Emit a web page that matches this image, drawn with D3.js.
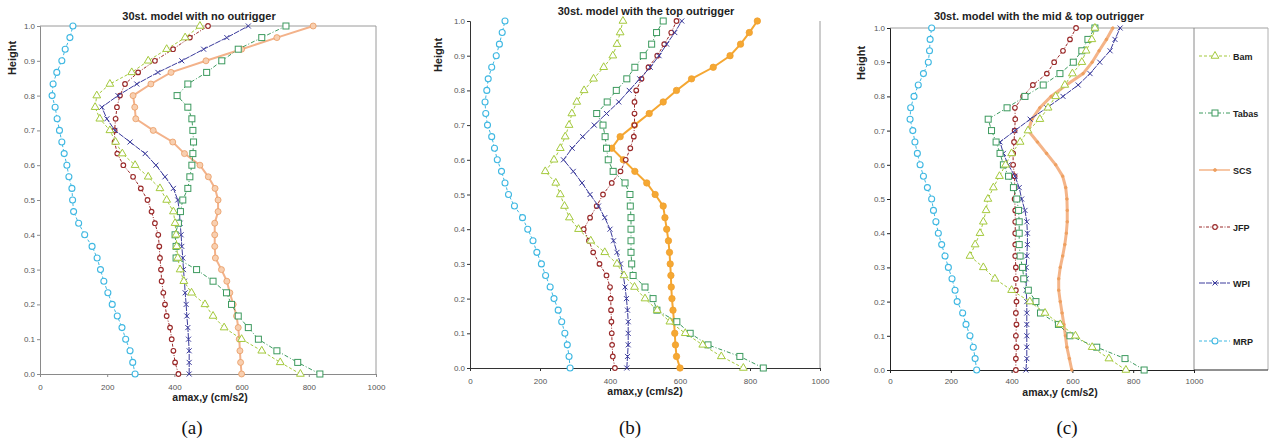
<!DOCTYPE html>
<html>
<head>
<meta charset="utf-8">
<script src="https://cdn.jsdelivr.net/npm/d3@7"></script>
<style>
  body { margin: 0; background: #fff; }
  svg { display: block; font-family: "Liberation Sans", Arial, sans-serif; }
</style>
</head>
<body>
<svg id="chart" width="1270" height="441"></svg>
<script>
// floors of the 30-storey model, bottom (0) to top (30); height = floor / 30
var floors = [0, 1, 2, 3, 4, 5, 6, 7, 8, 9, 10, 11, 12, 13, 14, 15, 16, 17, 18, 19, 20,
  21, 22, 23, 24, 25, 26, 27, 28, 29, 30];

var yTickFloors = [0, 3, 6, 9, 12, 15, 18, 21, 24, 27, 30];
var yTickLabels = ['0.0', '0.1', '0.2', '0.3', '0.4', '0.5', '0.6', '0.7', '0.8', '0.9', '1.0'];
var xTicks = [0, 200, 400, 600, 800, 1000];

var seriesNames = ['Bam', 'Tabas', 'SCS', 'JFP', 'WPI', 'MRP'];

// (a) no outrigger
var bamA = [775, 715, 660, 600, 548, 515, 491, 451, 428, 417, 410, 407, 405, 402, 397, 377, 357, 322, 283, 245, 225, 208, 178, 164, 169, 208, 273, 322, 377, 432, 476];
var tabasA = [833, 767, 705, 650, 620, 590, 570, 555, 515, 466, 405, 405, 402, 412, 418, 425, 440, 446, 452, 455, 457, 455, 452, 440, 408, 440, 496, 541, 590, 660, 732];
var scsA = [600, 597, 595, 593, 590, 585, 575, 565, 556, 540, 522, 520, 520, 520, 530, 530, 521, 501, 476, 430, 395, 337, 285, 282, 277, 330, 390, 494, 600, 705, 813];
var jfpA = [412, 402, 397, 392, 387, 377, 372, 367, 362, 360, 357, 355, 352, 342, 332, 320, 300, 277, 248, 230, 222, 222, 225, 229, 238, 253, 292, 342, 396, 446, 500];
var wpiA = [444, 444, 444, 442, 440, 437, 435, 432, 430, 427, 425, 422, 420, 417, 415, 410, 397, 372, 345, 313, 268, 223, 199, 184, 232, 288, 351, 422, 487, 556, 620];
var mrpA = [283, 276, 268, 255, 244, 230, 215, 202, 190, 180, 170, 155, 133, 115, 100, 97, 95, 86, 80, 72, 65, 58, 51, 45, 36, 39, 50, 65, 75, 89, 98];

// (b) top outrigger
var bamB = [781, 718, 665, 615, 571, 535, 500, 470, 440, 420, 385, 345, 310, 284, 270, 258, 245, 215, 240, 258, 272, 283, 291, 305, 326, 353, 382, 408, 420, 429, 437];
var tabasB = [838, 771, 680, 629, 591, 534, 523, 500, 466, 462, 460, 460, 460, 460, 458, 457, 443, 409, 395, 390, 386, 380, 362, 392, 418, 448, 471, 495, 519, 533, 552];
var scsB = [600, 590, 587, 585, 583, 580, 577, 575, 574, 572, 570, 567, 562, 557, 552, 529, 505, 471, 438, 405, 429, 470, 512, 552, 590, 633, 695, 743, 773, 798, 821];
var jfpB = [414, 408, 406, 405, 404, 403, 402, 400, 390, 370, 352, 340, 325, 343, 362, 380, 405, 430, 445, 458, 468, 470, 470, 470, 475, 490, 510, 535, 555, 575, 590];
var wpiB = [448, 450, 452, 452, 452, 450, 447, 443, 438, 430, 420, 410, 400, 385, 367, 343, 320, 295, 267, 292, 322, 355, 390, 425, 455, 485, 515, 540, 562, 585, 605];
var mrpB = [286, 283, 278, 271, 262, 252, 240, 229, 216, 204, 191, 180, 165, 150, 127, 110, 100, 90, 78, 70, 62, 50, 45, 43, 48, 52, 62, 75, 84, 92, 100];

// (c) mid & top outrigger
var bamC = [776, 720, 665, 610, 560, 510, 460, 400, 345, 307, 263, 280, 296, 307, 316, 322, 340, 360, 380, 400, 428, 454, 493, 520, 545, 575, 600, 631, 645, 664, 674];
var tabasC = [836, 773, 680, 592, 554, 495, 480, 455, 440, 436, 428, 425, 425, 425, 423, 417, 406, 390, 373, 362, 349, 334, 323, 385, 444, 504, 559, 603, 631, 651, 674];
var scsC = [598, 590, 582, 577, 572, 566, 560, 555, 555, 560, 568, 575, 580, 583, 583, 582, 578, 568, 545, 515, 485, 455, 467, 493, 530, 580, 635, 665, 688, 712, 733];
var jfpC = [414, 414, 416, 414, 416, 414, 416, 414, 414, 414, 412, 412, 412, 412, 412, 410, 410, 410, 405, 405, 408, 410, 412, 411, 438, 470, 516, 540, 569, 592, 612];
var wpiC = [447, 450, 450, 450, 450, 450, 450, 448, 448, 448, 450, 452, 452, 450, 444, 433, 425, 411, 389, 373, 362, 411, 461, 516, 569, 619, 658, 690, 724, 740, 757];
var mrpC = [285, 280, 274, 263, 250, 239, 221, 214, 204, 192, 181, 170, 159, 151, 143, 137, 123, 110, 99, 90, 82, 75, 66, 68, 79, 93, 110, 126, 130, 132, 137];

var svg = d3.select('#chart');

// line / marker look for each series
var styles = {
  Bam:   { color: '#a4c93c', dash: '3,2', width: 1, marker: 'tri' },
  Tabas: { color: '#3c9a5e', dash: '4,2,1,2', width: 1, marker: 'sq' },
  SCS:   { color: '#f2a878', dash: null, width: 2, marker: 'dot' },
  JFP:   { color: '#9a2a2a', dash: '3,1.5,1,1.5', width: 1, marker: 'ring' },
  WPI:   { color: '#3b3b9c', dash: '6,1', width: 1, marker: 'x' },
  MRP:   { color: '#3fb8e2', dash: '3,2', width: 1, marker: 'circ' }
};

function drawMarker(g, type, color, fill, r) {
  if (type === 'tri') {
    g.append('path').attr('d', d3.symbol().type(d3.symbolTriangle).size(26)())
      .attr('fill', '#fff').attr('stroke', color).attr('stroke-width', 1);
  } else if (type === 'sq') {
    g.append('rect').attr('x', -3).attr('y', -3).attr('width', 6).attr('height', 6)
      .attr('fill', '#fff').attr('stroke', color).attr('stroke-width', 1);
  } else if (type === 'ring') {
    g.append('circle').attr('r', 2.3)
      .attr('fill', '#fff').attr('stroke', color).attr('stroke-width', 1.2);
  } else if (type === 'x') {
    g.append('path').attr('d', 'M-2.5,-2.5L2.5,2.5M-2.5,2.5L2.5,-2.5')
      .attr('stroke', color).attr('stroke-width', 1);
  } else if (type === 'circ') {
    g.append('circle').attr('r', 3).attr('fill', '#fff')
      .attr('stroke', color).attr('stroke-width', 1.1);
  } else if (type === 'dot') {
    g.append('circle').attr('r', r).attr('fill', fill).attr('stroke', color).attr('stroke-width', 0.8);
  }
}

function drawPanel(p) {
  var x = d3.scaleLinear().domain([0, 1000]).range([p.left, p.right]);
  var y = d3.scaleLinear().domain([0, 30]).range([p.bottom, p.top]);
  var g = svg.append('g');

  // frame
  p.frame.forEach(function(f) {
    g.append('line').attr('x1', f[0]).attr('y1', f[1]).attr('x2', f[2]).attr('y2', f[3])
      .attr('stroke', f[4]).attr('stroke-width', 1);
  });

  var xAxis = d3.axisBottom(x).tickValues(xTicks).tickSize(3).tickPadding(p.xPad)
    .tickFormat(d3.format('d'));
  var gx = g.append('g').attr('transform', 'translate(0,' + p.bottom + ')').call(xAxis);
  gx.select('.domain').attr('stroke', p.axisColor);
  gx.selectAll('.tick line').attr('stroke', p.axisColor);
  gx.selectAll('text').attr('font-size', 8).attr('fill', '#555')
    .attr('font-family', '"Liberation Sans", Arial, sans-serif');

  var yAxis = d3.axisLeft(y).tickValues(yTickFloors).tickSize(3).tickPadding(2)
    .tickFormat(function(d, i) { return yTickLabels[i]; });
  var gy = g.append('g').attr('transform', 'translate(' + p.left + ',0)').call(yAxis);
  gy.select('.domain').attr('stroke', p.axisColor);
  gy.selectAll('.tick line').attr('stroke', p.axisColor);
  gy.selectAll('text').attr('font-size', 8).attr('fill', '#555')
    .attr('font-family', '"Liberation Sans", Arial, sans-serif');

  var line = d3.line()
    .x(function(d) { return x(d.v); })
    .y(function(d) { return y(d.f); });

  // draw order: lower layers first
  var order = ['MRP', 'SCS', 'JFP', 'WPI', 'Tabas', 'Bam'];
  order.forEach(function(name) {
    var st = styles[name];
    var vals = p.data[name];
    var pts = floors.map(function(f, i) { return { f: f, v: vals[i] }; });
    var color = name === 'SCS' ? p.scs.line : st.color;
    g.append('path').datum(pts).attr('d', line)
      .attr('fill', 'none').attr('stroke', color)
      .attr('stroke-width', name === 'SCS' ? p.scs.width : st.width)
      .attr('stroke-dasharray', st.dash);
    g.selectAll(null).data(pts).enter().append('g')
      .attr('transform', function(d) { return 'translate(' + x(d.v) + ',' + y(d.f) + ')'; })
      .each(function() {
        if (name === 'SCS') drawMarker(d3.select(this), 'dot', p.scs.stroke, p.scs.fill, p.scs.r);
        else drawMarker(d3.select(this), st.marker, st.color);
      });
  });

  // texts
  g.append('text').attr('x', p.titleX).attr('y', p.titleY).attr('text-anchor', 'middle')
    .attr('font-size', 11).attr('font-weight', 'bold').attr('fill', '#222').text(p.title);
  g.append('text').attr('transform', 'translate(' + p.hX + ',' + p.hY + ') rotate(-90)')
    .attr('text-anchor', 'middle').attr('font-size', 11).attr('font-weight', 'bold')
    .attr('fill', '#222').text('Height');
  g.append('text').attr('x', p.xlX).attr('y', p.xlY).attr('text-anchor', 'middle')
    .attr('font-size', 10.5).attr('font-weight', 'bold').attr('fill', '#222').text('amax,y (cm/s2)');
  g.append('text').attr('x', p.capX).attr('y', 434).attr('text-anchor', 'middle')
    .attr('font-family', '"Liberation Serif", "Times New Roman", serif')
    .attr('font-size', 19).attr('fill', '#111').text(p.caption);

  if (p.legend) {
    seriesNames.forEach(function(name, i) {
      var st = styles[name];
      var ly = p.legend.ys[i];
      var color = name === 'SCS' ? p.scs.line : st.color;
      g.append('line').attr('x1', 1199).attr('x2', 1230).attr('y1', ly).attr('y2', ly)
        .attr('stroke', color).attr('stroke-width', name === 'SCS' ? 1.5 : 1)
        .attr('stroke-dasharray', st.dash);
      var mg = g.append('g').attr('transform', 'translate(1215,' + ly + ')');
      if (name === 'SCS') drawMarker(mg, 'dot', p.scs.stroke, p.scs.fill, 1.5);
      else drawMarker(mg, st.marker, st.color);
      g.append('text').attr('x', 1233).attr('y', ly + 3.5).attr('font-size', 9)
        .attr('font-weight', 'bold').attr('fill', '#222').text(name);
    });
  }
}

drawPanel({
  left: 40, right: 376, top: 26, bottom: 374, xPad: 7, axisColor: '#8a8a8a',
  frame: [[40, 26, 376, 26, '#9a9a9a'], [376, 26, 376, 374, '#9a9a9a']],
  data: { Bam: bamA, Tabas: tabasA, SCS: scsA, JFP: jfpA, WPI: wpiA, MRP: mrpA },
  scs: { line: '#f3b28a', width: 2, stroke: '#e89a62', fill: '#f8cfb0', r: 3 },
  title: '30st. model with no outrigger', titleX: 199, titleY: 20,
  hX: 16, hY: 58, xlX: 210, xlY: 401, capX: 192, caption: '(a)'
});

drawPanel({
  left: 470, right: 820, top: 21, bottom: 368, xPad: 7, axisColor: '#333',
  frame: [[820, 21, 820, 368, '#9a9a9a']],
  data: { Bam: bamB, Tabas: tabasB, SCS: scsB, JFP: jfpB, WPI: wpiB, MRP: mrpB },
  scs: { line: '#f5a732', width: 2, stroke: '#f0a030', fill: '#f5a833', r: 3.2 },
  title: '30st. model with the top outrigger', titleX: 646, titleY: 15,
  hX: 442, hY: 55, xlX: 645, xlY: 395, capX: 630, caption: '(b)'
});

drawPanel({
  left: 890, right: 1194, top: 28, bottom: 370, xPad: 5, axisColor: '#222',
  frame: [[890, 28, 1268, 28, '#a0a0a0'], [1194, 28, 1194, 370, '#8a8a8a'],
          [1268, 28, 1268, 370, '#b0b0b0'], [1194, 370, 1268, 370, '#222']],
  data: { Bam: bamC, Tabas: tabasC, SCS: scsC, JFP: jfpC, WPI: wpiC, MRP: mrpC },
  scs: { line: '#f4b488', width: 3, stroke: '#eea060', fill: '#eea060', r: 1.3 },
  title: '30st. model with the mid & top outrigger', titleX: 1039, titleY: 20,
  hX: 865, hY: 63, xlX: 1060, xlY: 396, capX: 1067, caption: '(c)',
  legend: { ys: [56, 113, 170, 227, 283, 341] }
});
</script>
</body>
</html>
